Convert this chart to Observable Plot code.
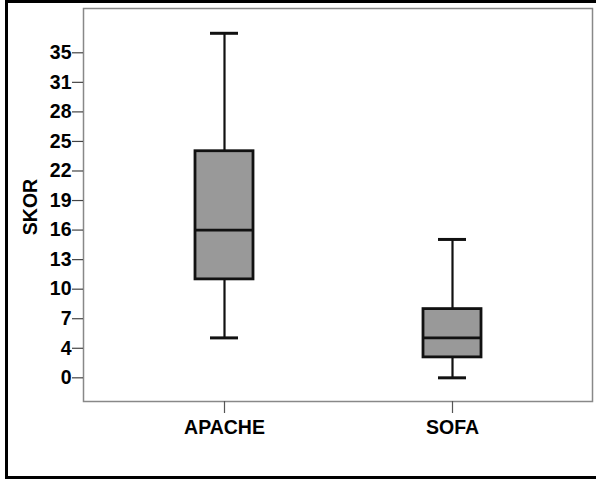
<!DOCTYPE html>
<html>
<head>
<meta charset="utf-8">
<script src="https://cdn.jsdelivr.net/npm/d3@7"></script>
<script src="https://cdn.jsdelivr.net/npm/@observablehq/plot@0.6"></script>
<style>
  html, body { margin: 0; padding: 0; background: #fff; }
  #wrap { position: relative; width: 596px; height: 479px; overflow: hidden; }
  #border { position: absolute; left: 5px; top: 0; width: 600px; height: 479px;
            border: 3px solid #000; border-right: none; box-sizing: border-box; pointer-events: none; }
  #chart svg text { font-family: "Liberation Sans", Arial, sans-serif; font-size: 19.5px; font-weight: bold; fill: #000; }
</style>
</head>
<body>
<div id="wrap"><div id="chart"></div><div id="border"></div></div>
<script>
const categories = ["APACHE", "SOFA"];
const whiskerLow = [4.3, 0.0];
const q1 = [10.6, 2.2];
const median = [15.9, 4.3];
const q3 = [24.4, 7.4];
const whiskerHigh = [37.1, 14.9];
const yTickLabels = ["0", "4", "7", "10", "13", "16", "19", "22", "25", "28", "31", "35"];
const yTickMax = 35;

const rows = categories.map((c, i) => ({
  cat: c, lo: whiskerLow[i], q1: q1[i], med: median[i], q3: q3[i], hi: whiskerHigh[i]
}));
const tickPos = yTickLabels.map((_, i) => i * yTickMax / (yTickLabels.length - 1));

const plot = Plot.plot({
  width: 596,
  height: 479,
  marginLeft: 83,
  marginRight: 4,
  marginTop: 8,
  marginBottom: 78,
  style: {fontFamily: "'Liberation Sans', Arial, sans-serif", fontSize: "19.5px", background: "#fff"},
  x: {type: "band", domain: categories, paddingInner: 0.7465, paddingOuter: 0.4856, label: null},
  y: {domain: [-2.55, 39.77], label: null},
  marks: [
    Plot.frame({stroke: "#888", strokeWidth: 1.5}),
    Plot.axisY({
      ticks: tickPos,
      tickFormat: (d, i) => yTickLabels[i],
      tickSize: 11, tickPadding: 1, stroke: "#444", strokeWidth: 1.2,
      fontWeight: "bold", label: null, fill: "#000", color: "#000"
    }),
    Plot.axisX({
      tickSize: 12, tickPadding: 7, stroke: "#555", strokeWidth: 1.2,
      fontWeight: "bold", label: null
    }),
    Plot.text(["SKOR"], {
      frameAnchor: "left", textAnchor: "middle", dx: -53, dy: 2, rotate: -90,
      fontWeight: "bold", fill: "#000"
    }),
    Plot.ruleX(rows, {x: "cat", y1: "lo", y2: "q1", stroke: "#111", strokeWidth: 2.2}),
    Plot.ruleX(rows, {x: "cat", y1: "q3", y2: "hi", stroke: "#111", strokeWidth: 2.2}),
    Plot.tickY(rows, {x: "cat", y: "lo", stroke: "#111", strokeWidth: 3, insetLeft: 15, insetRight: 15}),
    Plot.tickY(rows, {x: "cat", y: "hi", stroke: "#111", strokeWidth: 3, insetLeft: 15, insetRight: 15}),
    Plot.rectY(rows, {x: "cat", y1: "q1", y2: "q3", fill: "#999999", stroke: "#111", strokeWidth: 2.8}),
    Plot.tickY(rows, {x: "cat", y: "med", stroke: "#111", strokeWidth: 2.8})
  ]
});
document.getElementById("chart").appendChild(plot);
</script>
</body>
</html>
